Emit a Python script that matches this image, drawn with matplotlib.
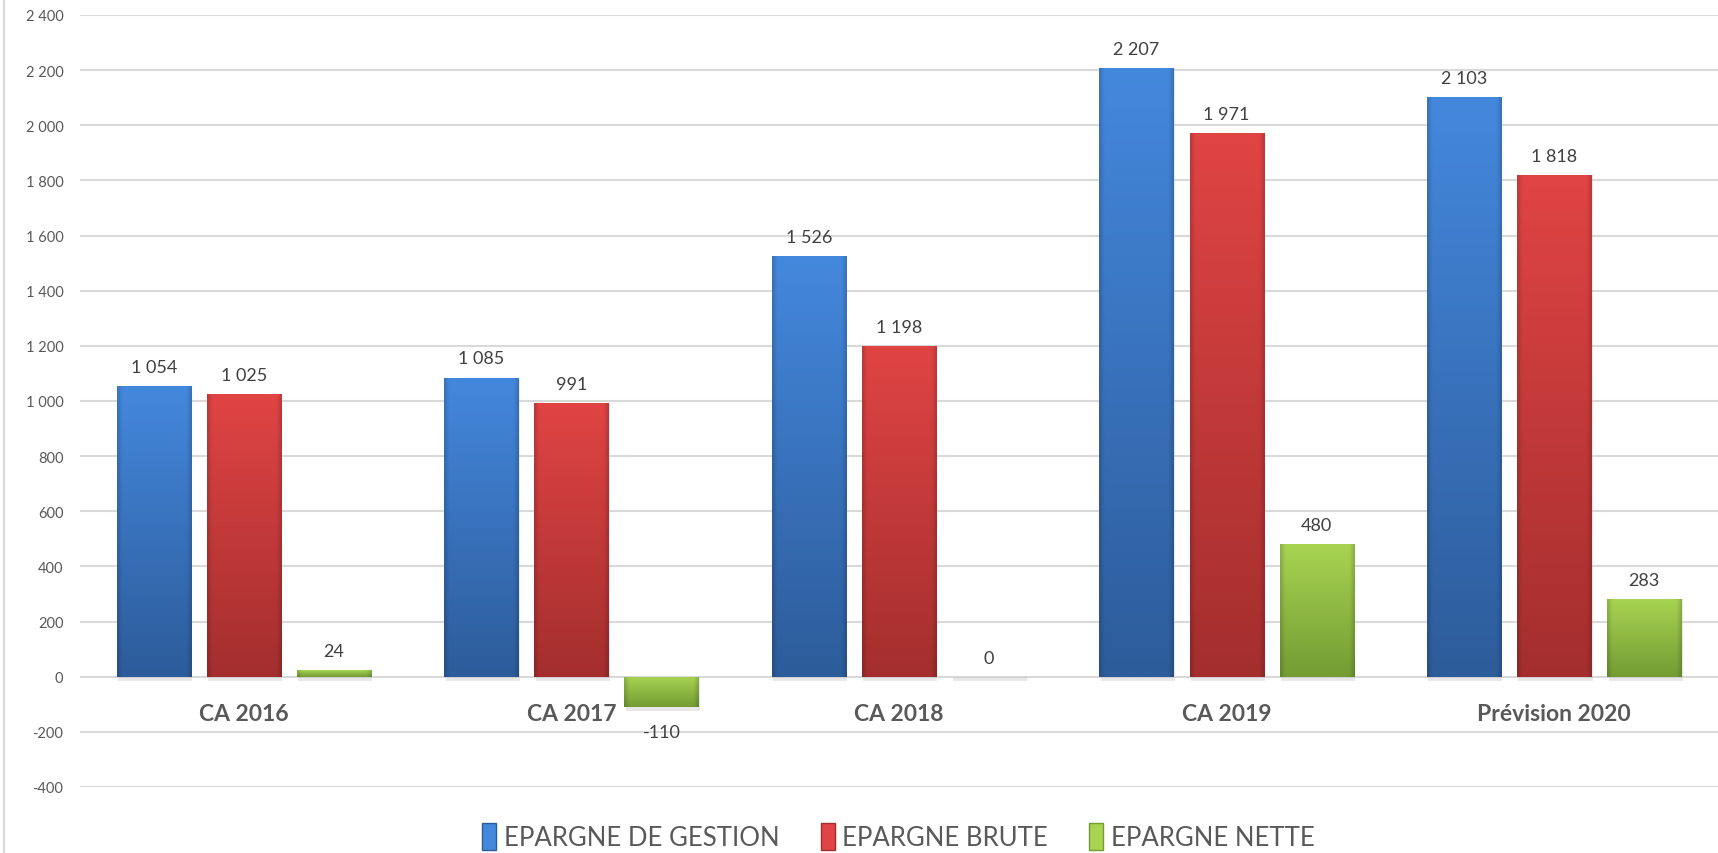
import numpy as np
import matplotlib
matplotlib.use("Agg")
import matplotlib.pyplot as plt
from matplotlib.patches import Patch
from matplotlib.colors import to_rgb

# --- data ---
categories = ["CA 2016", "CA 2017", "CA 2018", "CA 2019", "Prévision 2020"]
series_names = ["EPARGNE DE GESTION", "EPARGNE BRUTE", "EPARGNE NETTE"]
epargne_gestion = [1054, 1085, 1526, 2207, 2103]
epargne_brute = [1025, 991, 1198, 1971, 1818]
epargne_nette = [24, -110, 0, 480, 283]
yticks = list(range(-400, 2401, 200))

# --- colours (top, bottom of gradient) ---
grad_colors = [("#4488dd", "#2d5c9a"),
               ("#e04444", "#a42e2e"),
               ("#a8d452", "#739c33")]
text_gray = "#595959"
label_gray = "#404040"
grid_color = "#d9d9d9"

plt.rcParams["font.family"] = ["Lato", "DejaVu Sans"]


def fmt(v):
    return f"{v:,}".replace(",", " ")


def gradient_image(top, bottom, nx=40, ny=100):
    top = np.array(to_rgb(top))
    bottom = np.array(to_rgb(bottom))
    t = np.linspace(0, 1, ny)[:, None, None]
    img = top * (1 - t) + bottom * t
    img = np.repeat(img, nx, axis=1)
    # darker side bevels
    xs = np.linspace(0, 1, nx)
    edge = np.clip(np.minimum(xs, 1 - xs) / 0.06, 0, 1)
    shade = 0.85 + 0.15 * edge
    img = img * shade[None, :, None]
    return np.clip(img, 0, 1)


fig = plt.figure(figsize=(17.18, 8.54), dpi=100)
ax = fig.add_axes([80 / 1718, 66 / 854, 1638 / 1718, 772 / 854])

# left frame line
fig.add_artist(plt.Line2D([4 / 1718, 4 / 1718], [0, 1], color="#d9d9d9", lw=1.5))

x = np.arange(len(categories))
width = 0.226
offset = 0.275
all_series = [epargne_gestion, epargne_brute, epargne_nette]

for i, vals in enumerate(all_series):
    pos = x + (i - 1) * offset
    # soft shadow
    ax.bar(pos + 0.004, [abs(v) + 14 for v in vals], width=width,
           bottom=[min(v, 0) - 14 for v in vals],
           color="#bfbfbf", alpha=0.35, zorder=2, linewidth=0)
    bars = ax.bar(pos, vals, width=width, color=grad_colors[i][0],
                  zorder=3, linewidth=0)
    img = gradient_image(*grad_colors[i])
    for b, v in zip(bars, vals):
        cx = b.get_x() + width / 2
        if v != 0:
            x0 = b.get_x()
            im = ax.imshow(img, extent=[x0, x0 + width, min(v, 0), max(v, 0)],
                           aspect="auto", origin="upper", zorder=3.5,
                           interpolation="bilinear")
            im.set_clip_path(b)
        if v >= 0:
            ax.annotate(fmt(v), (cx, v), xytext=(0, 8),
                        textcoords="offset points", ha="center", va="bottom",
                        fontsize=13, color=label_gray)
        else:
            ax.annotate(fmt(v), (cx, v), xytext=(0, -12),
                        textcoords="offset points", ha="center", va="top",
                        fontsize=13, color=label_gray)

ax.set_xlim(-0.5, len(categories) - 0.5)
ax.set_ylim(-400, 2400)
ax.spines["bottom"].set_position(("data", 0))
for s in ax.spines.values():
    s.set_visible(False)

ax.set_yticks(yticks)
ax.set_yticklabels([fmt(v) for v in yticks], fontsize=10.5, color=text_gray)
ax.yaxis.grid(True, color=grid_color, linewidth=1.5, zorder=0)
ax.set_axisbelow(True)
ax.tick_params(axis="y", length=0, pad=12)

ax.set_xticks(x)
ax.set_xticklabels(categories, fontsize=16.5, fontweight="bold", color=text_gray)
ax.tick_params(axis="x", length=0, pad=19)

handles = [Patch(facecolor=c[0], edgecolor=c[1], linewidth=1) for c in grad_colors]
fig.legend(handles, series_names, loc="center", bbox_to_anchor=(0.523, 0.019),
           ncol=3, frameon=False, handlelength=0.55, handleheight=1.2,
           handletextpad=0.3, columnspacing=1.6,
           prop={"size": 18.5}, labelcolor=text_gray)

fig.savefig("out.png", dpi=100)
